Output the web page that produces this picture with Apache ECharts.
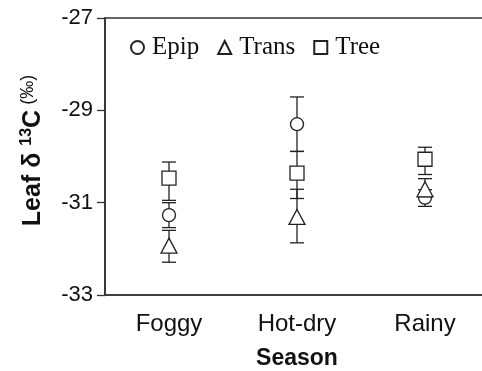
<!DOCTYPE html>
<html>
<head>
<meta charset="utf-8">
<script src="https://cdn.jsdelivr.net/npm/echarts@6/dist/echarts.min.js"></script>
<style>html,body{margin:0;padding:0;background:#fff}#c{width:482px;height:371px}</style>
</head>
<body>
<div id="c"></div>
<script>
const categories = ['Foggy', 'Hot-dry', 'Rainy'];
const yTicks = [-33, -31, -29, -27];
const epipMean = [-31.27, -29.30, -30.89];
const epipLow  = [-31.54, -29.89, -31.08];
const epipHigh = [-31.00, -28.71, -30.72];
const transMean = [-31.93, -31.31, -30.71];
const transLow  = [-32.29, -31.87, -30.87];
const transHigh = [-31.60, -30.71, -30.48];
const treeMean = [-30.47, -30.36, -30.06];
const treeLow  = [-30.95, -30.91, -30.39];
const treeHigh = [-30.12, -29.89, -29.80];

const ink = '#222';
function errSeries(low, high, z) {
  return {
    type: 'custom', z: z, silent: true,
    data: categories.map((c, i) => [i, low[i], high[i]]),
    renderItem: function (params, api) {
      const lo = api.coord([api.value(0), api.value(1)]);
      const hi = api.coord([api.value(0), api.value(2)]);
      const hw = 7;
      const st = { stroke: ink, lineWidth: 1.3 };
      return { type: 'group', children: [
        { type: 'line', shape: { x1: lo[0], y1: lo[1], x2: hi[0], y2: hi[1] }, style: st },
        { type: 'line', shape: { x1: lo[0] - hw, y1: lo[1], x2: lo[0] + hw, y2: lo[1] }, style: st },
        { type: 'line', shape: { x1: hi[0] - hw, y1: hi[1], x2: hi[0] + hw, y2: hi[1] }, style: st }
      ]};
    }
  };
}
function pts(name, mean, symbol, size, z) {
  return {
    name: name, type: 'scatter', z: z, symbol: symbol, symbolSize: size,
    data: categories.map((c, i) => [i, mean[i]]),
    itemStyle: { color: '#fff', borderColor: ink, borderWidth: 1.3, opacity: 1 }
  };
}
const chart = echarts.init(document.getElementById('c'));
chart.setOption({
  animation: false,
  backgroundColor: '#fff',
  grid: { left: 105, top: 18, width: 384, height: 277, containLabel: false, outerBoundsMode: 'none',
          show: true, borderColor: '#333', borderWidth: 1.6, backgroundColor: 'transparent' },
  legend: {
    data: ['Epip', 'Trans', 'Tree'],
    left: 125, top: 30, itemWidth: 13, itemHeight: 13, itemGap: 18,
    textStyle: { fontFamily: 'Liberation Serif', fontSize: 25, color: '#111', padding: [0, 0, 0, 3] }
  },
  xAxis: {
    type: 'category', data: categories,
    axisLine: { lineStyle: { color: '#333', width: 1.6 } },
    axisTick: { length: 7, lineStyle: { color: '#333', width: 1.3 } },
    axisLabel: { fontFamily: 'Liberation Sans', fontSize: 24, color: '#111', margin: 17 },
    name: 'Season', nameLocation: 'middle', nameGap: 52,
    nameTextStyle: { fontFamily: 'Liberation Sans', fontWeight: 'bold', fontSize: 23, color: '#111' }
  },
  yAxis: {
    type: 'value', min: yTicks[0], max: yTicks[yTicks.length - 1], interval: 2,
    splitLine: { show: false },
    axisLine: { show: true, lineStyle: { color: '#333', width: 1.6 } },
    axisTick: { show: true, length: 8, lineStyle: { color: '#333', width: 1.3 } },
    axisLabel: { fontFamily: 'Liberation Sans', fontSize: 22, color: '#111', margin: 12 },
    name: '{b|Leaf δ }{sup|13}{b|C}{s| (‰)}', nameLocation: 'middle', nameGap: 58, nameRotate: 90,
    nameTextStyle: {
      padding: [0, 0, 0, 12],
      rich: {
        b: { fontFamily: 'Liberation Sans', fontWeight: 'bold', fontSize: 25, color: '#111', lineHeight: 28 },
        sup: { fontFamily: 'Liberation Sans', fontWeight: 'bold', fontSize: 16, color: '#111', verticalAlign: 'top', lineHeight: 28 },
        s: { fontFamily: 'Liberation Sans', fontSize: 18, color: '#111', lineHeight: 28, verticalAlign: 'top' }
      }
    }
  },
  series: [
    errSeries(epipLow, epipHigh, 2),
    pts('Epip', epipMean, 'circle', 13, 3),
    errSeries(transLow, transHigh, 4),
    pts('Trans', transMean, 'triangle', [16, 15], 5),
    errSeries(treeLow, treeHigh, 6),
    pts('Tree', treeMean, 'rect', 14, 7)
  ]
});
</script>
</body>
</html>
